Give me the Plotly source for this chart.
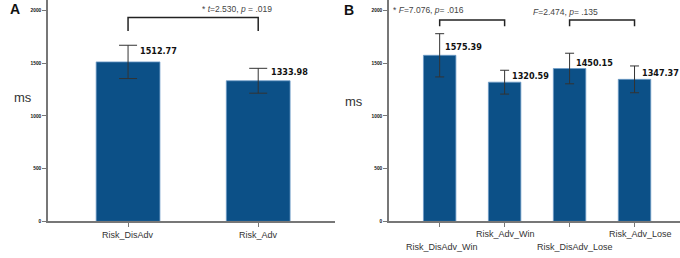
import plotly.graph_objects as go

# ---------------- data ----------------
cats_a = ["Risk_DisAdv", "Risk_Adv"]
vals_a = [1512.77, 1333.98]
err_a = [158, 118]

cats_b = ["Risk_DisAdv_Win", "Risk_Adv_Win", "Risk_DisAdv_Lose", "Risk_Adv_Lose"]
vals_b = [1575.39, 1320.59, 1450.15, 1347.37]
err_b = [205, 113, 145, 127]

y_ticks = [0, 500, 1000, 1500, 2000]
stat_a = "* <i>t</i>=2.530, <i>p</i> = .019"
stat_b1 = "* <i>F</i>=7.076, <i>p</i>= .016"
stat_b2 = "<i>F</i>=2.474, <i>p</i>= .135"

# ---------------- style ----------------
W, H = 680, 258
BAR = "#0c5087"
EDGE = "#6f9cc8"
AXIS = "#777777"
FONT = "Liberation Sans, Arial, sans-serif"
VALFONT = "DejaVu Sans Condensed, DejaVu Sans, sans-serif"


def py(pix):
    return 1 - pix / H


fig = go.Figure()

fig.add_trace(go.Bar(
    x=list(range(len(cats_a))), y=vals_a, width=0.49,
    marker=dict(color=BAR, line=dict(color=EDGE, width=0.8)),
    error_y=dict(type="data", array=err_a, color="#333333", thickness=1, width=9),
    xaxis="x", yaxis="y", showlegend=False, hoverinfo="skip"))

fig.add_trace(go.Bar(
    x=list(range(len(cats_b))), y=vals_b, width=0.5,
    marker=dict(color=BAR, line=dict(color=EDGE, width=0.8)),
    error_y=dict(type="data", array=err_b, color="#333333", thickness=1, width=4.5),
    xaxis="x2", yaxis="y2", showlegend=False, hoverinfo="skip"))

yax = dict(range=[0, 2100], domain=[34 / H, 1.0], tickvals=y_ticks,
           ticktext=[str(t) for t in y_ticks], showgrid=False, zeroline=False,
           showline=True, linecolor=AXIS, linewidth=1.5, ticks="outside",
           ticklen=4, tickcolor=AXIS, tickwidth=1,
           tickfont=dict(family=FONT, size=4.8, color="#111111", weight="bold"))
xax = dict(showgrid=False, zeroline=False, showline=True, linecolor=AXIS,
           linewidth=1.5, ticks="outside", ticklen=4, tickcolor=AXIS,
           showticklabels=False)

fig.update_layout(
    width=W, height=H, margin=dict(l=0, r=0, t=0, b=0),
    paper_bgcolor="white", plot_bgcolor="white",
    xaxis=dict(xax, domain=[48 / W, 335 / W], range=[-0.615, 1.59],
               tickvals=list(range(len(cats_a)))),
    yaxis=dict(yax, anchor="x"),
    xaxis2=dict(xax, domain=[389 / W, 1.0], range=[-0.78, 3.70],
                tickvals=list(range(len(cats_b)))),
    yaxis2=dict(yax, anchor="x2"),
)

ann = []
# category labels
for i, c in enumerate(cats_a):
    ann.append(dict(x=i, y=py(238), xref="x", yref="paper", text=c, showarrow=False,
                    font=dict(family=FONT, size=9, color="#333333"), yanchor="middle"))
stag = [250, 236.5, 250, 236.5]
bshift = [2, 1, 5, 6]
for i, c in enumerate(cats_b):
    ann.append(dict(x=i, y=py(stag[i]), xref="x2", yref="paper", text=c, showarrow=False,
                    xshift=bshift[i],
                    font=dict(family=FONT, size=9, color="#333333"), yanchor="middle"))

# value labels
shift_a = [(10, 11), (11, 9)]
for i, v in enumerate(vals_a):
    ann.append(dict(x=i, y=v, xref="x", yref="y", text=f"{v:.2f}", showarrow=False,
                    xanchor="left", yanchor="middle",
                    xshift=shift_a[i][0], yshift=shift_a[i][1],
                    font=dict(family=VALFONT, size=9, color="#111111", weight="bold")))
shift_b = [(3, 8), (5, 6), (4, 6), (5, 6.5)]
for i, v in enumerate(vals_b):
    ann.append(dict(x=i, y=v, xref="x2", yref="y2", text=f"{v:.2f}", showarrow=False,
                    xanchor="left", yanchor="middle",
                    xshift=shift_b[i][0], yshift=shift_b[i][1],
                    font=dict(family=VALFONT, size=9, color="#111111", weight="bold")))

# stat texts
ann.append(dict(x=200 / W, y=py(9.5), xref="paper", yref="paper",
                text=stat_a, showarrow=False, yanchor="middle",
                font=dict(family=FONT, size=8.5, color="#444444")))
ann.append(dict(x=466 / W, y=py(10), xref="paper", yref="paper",
                text=stat_b1, showarrow=False, yanchor="middle",
                font=dict(family=FONT, size=8.5, color="#444444")))
ann.append(dict(x=600 / W, y=py(12), xref="paper", yref="paper",
                text=stat_b2, showarrow=False, yanchor="middle",
                font=dict(family=FONT, size=8.5, color="#444444")))

# axis titles and panel letters
ann.append(dict(x=12 / W, y=py(99), xref="paper", yref="paper", text="ms",
                showarrow=False, yanchor="middle",
                font=dict(family=FONT, size=13, color="#333333")))
ann.append(dict(x=354 / W, y=py(103), xref="paper", yref="paper", text="ms",
                showarrow=False, yanchor="middle",
                font=dict(family=FONT, size=13, color="#333333")))
ann.append(dict(x=8 / W, y=py(9), xref="paper", yref="paper", text="<b>A</b>",
                showarrow=False, yanchor="middle",
                font=dict(family=FONT, size=14, color="#111111")))
ann.append(dict(x=349 / W, y=py(10), xref="paper", yref="paper", text="<b>B</b>",
                showarrow=False, yanchor="middle",
                font=dict(family=FONT, size=14, color="#111111")))
fig.update_layout(annotations=ann)

# significance brackets
shapes = []
def bracket(xr, yr, x0, x1, ytop, ybot):
    shapes.append(dict(type="path", xref=xr, yref=yr,
                       path=f"M {x0},{ybot} L {x0},{ytop} L {x1},{ytop} L {x1},{ybot}",
                       line=dict(color="#222222", width=1.5)))

bracket("x", "y", 0, 1, 1935, 1805)
bracket("x2", "y2", 0, 1, 1910, 1850)
bracket("x2", "y2", 2, 3, 1910, 1850)
fig.update_layout(shapes=shapes)

fig.write_html("out.html", config={"displayModeBar": False},
               post_script="document.body.style.margin='0';document.body.style.padding='0';")
